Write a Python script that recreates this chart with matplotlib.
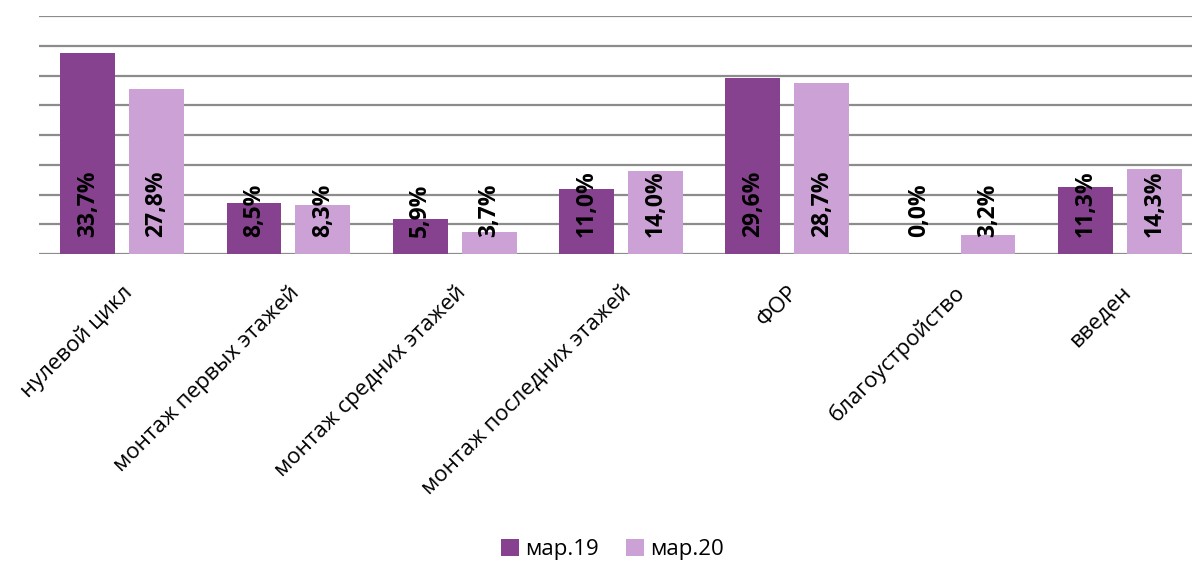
import numpy as np
import matplotlib.pyplot as plt

categories = ['нулевой цикл', 'монтаж первых этажей', 'монтаж средних этажей',
              'монтаж последних этажей', 'ФОР', 'благоустройство', 'введен']
mar19 = [33.7, 8.5, 5.9, 11.0, 29.6, 0.0, 11.3]
mar20 = [27.8, 8.3, 3.7, 14.0, 28.7, 3.2, 14.3]
series = ['мар.19', 'мар.20']
colors = ['#86428F', '#CCA2D6']

plt.rcParams['font.family'] = ['Open Sans', 'DejaVu Sans']

fig = plt.figure(figsize=(11.92, 5.61), dpi=100)
ax = fig.add_axes((39/1192, 307/561, 1164/1192, 238/561))

x = np.arange(len(categories))
w = 0.33
off = 0.207
b1 = ax.bar(x - off, mar19, w, color=colors[0], label=series[0], zorder=2)
b2 = ax.bar(x + off, mar20, w, color=colors[1], label=series[1], zorder=2)

for bars, vals in ((b1, mar19), (b2, mar20)):
    for r, v in zip(bars, vals):
        ax.text(r.get_x() + r.get_width()/2, 2.8, ('%.1f%%' % v).replace('.', ','),
                rotation=90, ha='center', va='bottom', fontsize=16.5,
                fontweight='bold', color='black', zorder=3)

ax.set_xlim(-0.5, len(categories) - 0.5)
ax.set_ylim(0, 40)
ax.set_yticks(np.arange(0, 41, 5))
ax.yaxis.grid(True, color='#8C8C8C', linewidth=1.6, zorder=0)
ax.set_yticklabels([])
ax.tick_params(axis='both', length=0)
for s in ax.spines.values():
    s.set_visible(False)

ax.set_xticks(x)
ax.set_xticklabels(categories, rotation=45, ha='right', rotation_mode='anchor',
                   fontsize=16)
ax.tick_params(axis='x', pad=20)

fig.legend(handles=[b1, b2], labels=series, loc='center', bbox_to_anchor=(0.514, 0.021),
           ncol=2, frameon=False, fontsize=16, handlelength=0.8, handleheight=0.8,
           handletextpad=0.3, columnspacing=1.2)

fig.savefig('out.png', dpi=100)
